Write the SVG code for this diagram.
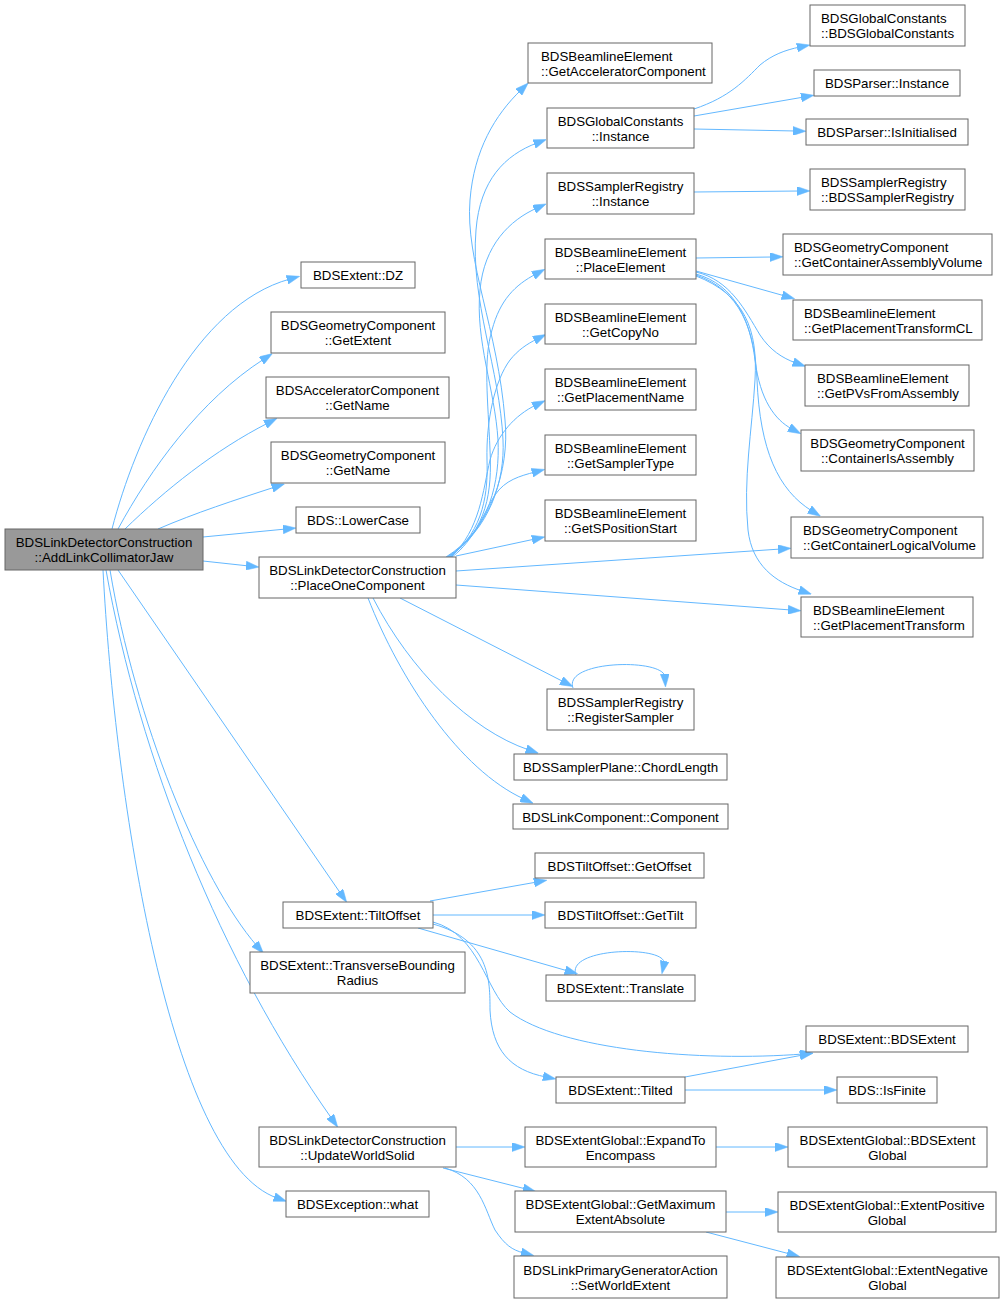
<svg xmlns="http://www.w3.org/2000/svg" width="1004" height="1303" viewBox="0 0 1004 1303">
<style>
.n rect{fill:#fff;stroke:#666;stroke-width:1}
.r rect{fill:#999;stroke:#666;stroke-width:1}
text{font-family:"Liberation Sans",Arial,Helvetica,sans-serif;font-size:13.3px;fill:#000}
.c{text-anchor:middle}
.l{text-anchor:start}
.e path{fill:none;stroke:#63b8ff;stroke-width:1;marker-end:url(#a)}
</style>
<defs>
<marker id="a" viewBox="0 0 13 9" refX="3" refY="4.5" markerWidth="13" markerHeight="9" markerUnits="userSpaceOnUse" orient="auto">
<path d="M0,0 L13,4.5 L0,9 z" fill="#63b8ff" stroke="#63b8ff" stroke-width="0.5"/>
</marker>
</defs>
<rect width="1004" height="1303" fill="#fff"/>
<g id="edges" class="e">
<path d="M112,529 C135,440 195,305 290,279"/>
<path d="M118,529 C150,470 200,400 264,359"/>
<path d="M125,529 C165,490 215,450 268,423"/>
<path d="M158,529 C195,513 235,500 275,487"/>
<path d="M203,537 L286,529"/>
<path d="M203,561 L249,566"/>
<path d="M118,570 L341,894"/>
<path d="M110,570 C135,720 200,880 257,946"/>
<path d="M106,570 C140,760 220,960 332,1119"/>
<path d="M103,570 C115,800 170,1160 277,1198"/>
<path d="M446,557 C490,530 510,470 505,420 C498,330 465,260 470,200 C474,150 495,115 521,90"/>
<path d="M447,557 C490,530 505,480 503,440 C500,370 470,300 476,230 C480,180 505,155 537,143"/>
<path d="M448,557 C490,530 500,480 498,440 C495,390 475,340 480,290 C484,245 510,220 537,208"/>
<path d="M449,557 C488,530 492,490 490,450 C488,400 483,360 492,330 C500,300 515,285 536,274"/>
<path d="M450,557 C485,530 488,490 487,460 C486,420 495,380 510,360 C518,350 527,344 537,339"/>
<path d="M451,557 C480,530 483,490 490,460 C497,435 515,415 536,405"/>
<path d="M452,557 C475,540 485,510 495,495 C505,480 520,476 535,472"/>
<path d="M456,556 L535,539"/>
<path d="M456,571 L781,549"/>
<path d="M456,585 L791,610"/>
<path d="M400,598 L564,682"/>
<path d="M373,598 C410,670 470,730 529,750"/>
<path d="M368,598 C400,680 460,770 524,799"/>
<path d="M573,688 C563,660 664,658 665,677"/>
<path d="M694,109 C730,97 745,80 760,65 C772,55 785,50 800,47"/>
<path d="M694,116 L804,97"/>
<path d="M694,129 L796,131"/>
<path d="M694,192 L800,191"/>
<path d="M696,258 L773,257"/>
<path d="M696,271 L785,296"/>
<path d="M696,272 C730,280 745,310 760,335 C770,350 782,358 796,363"/>
<path d="M696,274 C735,285 750,320 755,360 C760,400 775,420 792,429"/>
<path d="M696,275 C740,290 755,330 757,380 C760,450 778,490 812,511"/>
<path d="M696,276 C745,295 758,330 755,380 C752,430 743,480 748,530 C752,565 775,582 802,591"/>
<path d="M430,901 L537,882"/>
<path d="M433,915 L535,915"/>
<path d="M418,928 L568,971"/>
<path d="M576,975 C565,947 668,945 664,964"/>
<path d="M433,922 C480,935 485,990 510,1012 C560,1050 700,1062 803,1054"/>
<path d="M433,924 C490,940 490,980 490,1010 C492,1050 510,1070 546,1077"/>
<path d="M685,1077 L803,1055"/>
<path d="M685,1090 L827,1090"/>
<path d="M456,1147 L515,1147"/>
<path d="M443,1168 L526,1189"/>
<path d="M445,1168 C480,1178 485,1210 495,1230 C505,1245 512,1250 524,1253"/>
<path d="M716,1147 L778,1147"/>
<path d="M726,1212 L768,1212"/>
<path d="M706,1232 L790,1254"/>
</g>
<g id="n0" class="r"><rect x="5" y="529" width="198" height="41"/><text class="c" x="104" y="547">BDSLinkDetectorConstruction</text><text class="c" x="104" y="562">::AddLinkCollimatorJaw</text></g>
<g id="n1" class="n"><rect x="301" y="262" width="114" height="26"/><text class="c" x="358" y="280">BDSExtent::DZ</text></g>
<g id="n2" class="n"><rect x="271" y="312" width="174" height="41"/><text class="c" x="358" y="330">BDSGeometryComponent</text><text class="c" x="358" y="345">::GetExtent</text></g>
<g id="n3" class="n"><rect x="266" y="377" width="183" height="41"/><text class="c" x="357.5" y="395">BDSAcceleratorComponent</text><text class="c" x="357.5" y="410">::GetName</text></g>
<g id="n4" class="n"><rect x="271" y="442" width="174" height="41"/><text class="c" x="358" y="460">BDSGeometryComponent</text><text class="c" x="358" y="475">::GetName</text></g>
<g id="n5" class="n"><rect x="296" y="507" width="124" height="26"/><text class="c" x="358" y="525">BDS::LowerCase</text></g>
<g id="n6" class="n"><rect x="259" y="557" width="197" height="41"/><text class="c" x="357.5" y="575">BDSLinkDetectorConstruction</text><text class="c" x="357.5" y="590">::PlaceOneComponent</text></g>
<g id="n7" class="n"><rect x="283" y="902" width="150" height="26"/><text class="c" x="358" y="920">BDSExtent::TiltOffset</text></g>
<g id="n8" class="n"><rect x="250" y="952" width="215" height="41"/><text class="c" x="357.5" y="970">BDSExtent::TransverseBounding</text><text class="c" x="357.5" y="985">Radius</text></g>
<g id="n9" class="n"><rect x="259" y="1127" width="197" height="40"/><text class="c" x="357.5" y="1145">BDSLinkDetectorConstruction</text><text class="c" x="357.5" y="1160">::UpdateWorldSolid</text></g>
<g id="n10" class="n"><rect x="286" y="1191" width="143" height="26"/><text class="c" x="357.5" y="1209">BDSException::what</text></g>
<g id="n11" class="n"><rect x="528" y="43" width="184" height="40"/><text class="l" x="541" y="61">BDSBeamlineElement</text><text class="l" x="541" y="76">::GetAcceleratorComponent</text></g>
<g id="n12" class="n"><rect x="547" y="108" width="147" height="40"/><text class="c" x="620.5" y="126">BDSGlobalConstants</text><text class="c" x="620.5" y="141">::Instance</text></g>
<g id="n13" class="n"><rect x="547" y="173" width="147" height="41"/><text class="c" x="620.5" y="191">BDSSamplerRegistry</text><text class="c" x="620.5" y="206">::Instance</text></g>
<g id="n14" class="n"><rect x="545" y="239" width="151" height="40"/><text class="c" x="620.5" y="257">BDSBeamlineElement</text><text class="c" x="620.5" y="272">::PlaceElement</text></g>
<g id="n15" class="n"><rect x="545" y="304" width="151" height="40"/><text class="c" x="620.5" y="322">BDSBeamlineElement</text><text class="c" x="620.5" y="337">::GetCopyNo</text></g>
<g id="n16" class="n"><rect x="545" y="369" width="151" height="41"/><text class="c" x="620.5" y="387">BDSBeamlineElement</text><text class="c" x="620.5" y="402">::GetPlacementName</text></g>
<g id="n17" class="n"><rect x="545" y="435" width="151" height="40"/><text class="c" x="620.5" y="453">BDSBeamlineElement</text><text class="c" x="620.5" y="468">::GetSamplerType</text></g>
<g id="n18" class="n"><rect x="545" y="500" width="151" height="41"/><text class="c" x="620.5" y="518">BDSBeamlineElement</text><text class="c" x="620.5" y="533">::GetSPositionStart</text></g>
<g id="n19" class="n"><rect x="547" y="689" width="147" height="41"/><text class="c" x="620.5" y="707">BDSSamplerRegistry</text><text class="c" x="620.5" y="722">::RegisterSampler</text></g>
<g id="n20" class="n"><rect x="514" y="754" width="213" height="26"/><text class="c" x="620.5" y="772">BDSSamplerPlane::ChordLength</text></g>
<g id="n21" class="n"><rect x="513" y="804" width="215" height="25"/><text class="c" x="620.5" y="822">BDSLinkComponent::Component</text></g>
<g id="n22" class="n"><rect x="535" y="853" width="169" height="25"/><text class="c" x="619.5" y="871">BDSTiltOffset::GetOffset</text></g>
<g id="n23" class="n"><rect x="545" y="902" width="151" height="26"/><text class="c" x="620.5" y="920">BDSTiltOffset::GetTilt</text></g>
<g id="n24" class="n"><rect x="546" y="975" width="149" height="26"/><text class="c" x="620.5" y="993">BDSExtent::Translate</text></g>
<g id="n25" class="n"><rect x="556" y="1077" width="129" height="26"/><text class="c" x="620.5" y="1095">BDSExtent::Tilted</text></g>
<g id="n26" class="n"><rect x="525" y="1127" width="191" height="40"/><text class="c" x="620.5" y="1145">BDSExtentGlobal::ExpandTo</text><text class="c" x="620.5" y="1160">Encompass</text></g>
<g id="n27" class="n"><rect x="515" y="1191" width="211" height="41"/><text class="c" x="620.5" y="1209">BDSExtentGlobal::GetMaximum</text><text class="c" x="620.5" y="1224">ExtentAbsolute</text></g>
<g id="n28" class="n"><rect x="514" y="1256" width="213" height="42"/><text class="c" x="620.5" y="1275">BDSLinkPrimaryGeneratorAction</text><text class="c" x="620.5" y="1290">::SetWorldExtent</text></g>
<g id="n29" class="n"><rect x="810" y="5" width="155" height="41"/><text class="l" x="821" y="23">BDSGlobalConstants</text><text class="l" x="821" y="38">::BDSGlobalConstants</text></g>
<g id="n30" class="n"><rect x="814" y="70" width="146" height="26"/><text class="c" x="887" y="88">BDSParser::Instance</text></g>
<g id="n31" class="n"><rect x="806" y="119" width="162" height="26"/><text class="c" x="887" y="137">BDSParser::IsInitialised</text></g>
<g id="n32" class="n"><rect x="810" y="169" width="155" height="41"/><text class="l" x="821" y="187">BDSSamplerRegistry</text><text class="l" x="821" y="202">::BDSSamplerRegistry</text></g>
<g id="n33" class="n"><rect x="783" y="234" width="209" height="41"/><text class="l" x="794" y="252">BDSGeometryComponent</text><text class="l" x="794" y="267">::GetContainerAssemblyVolume</text></g>
<g id="n34" class="n"><rect x="793" y="300" width="189" height="40"/><text class="l" x="804" y="318">BDSBeamlineElement</text><text class="l" x="804" y="333">::GetPlacementTransformCL</text></g>
<g id="n35" class="n"><rect x="805" y="365" width="164" height="41"/><text class="l" x="817" y="383">BDSBeamlineElement</text><text class="l" x="817" y="398">::GetPVsFromAssembly</text></g>
<g id="n36" class="n"><rect x="801" y="430" width="173" height="41"/><text class="c" x="887.5" y="448">BDSGeometryComponent</text><text class="c" x="887.5" y="463">::ContainerIsAssembly</text></g>
<g id="n37" class="n"><rect x="791" y="517" width="192" height="41"/><text class="l" x="803" y="535">BDSGeometryComponent</text><text class="l" x="803" y="550">::GetContainerLogicalVolume</text></g>
<g id="n38" class="n"><rect x="801" y="597" width="172" height="40"/><text class="l" x="813" y="615">BDSBeamlineElement</text><text class="l" x="813" y="630">::GetPlacementTransform</text></g>
<g id="n39" class="n"><rect x="806" y="1026" width="162" height="26"/><text class="c" x="887" y="1044">BDSExtent::BDSExtent</text></g>
<g id="n40" class="n"><rect x="837" y="1077" width="100" height="26"/><text class="c" x="887" y="1095">BDS::IsFinite</text></g>
<g id="n41" class="n"><rect x="788" y="1127" width="199" height="40"/><text class="c" x="887.5" y="1145">BDSExtentGlobal::BDSExtent</text><text class="c" x="887.5" y="1160">Global</text></g>
<g id="n42" class="n"><rect x="778" y="1192" width="218" height="40"/><text class="c" x="887" y="1210">BDSExtentGlobal::ExtentPositive</text><text class="c" x="887" y="1225">Global</text></g>
<g id="n43" class="n"><rect x="776" y="1257" width="223" height="41"/><text class="c" x="887.5" y="1275">BDSExtentGlobal::ExtentNegative</text><text class="c" x="887.5" y="1290">Global</text></g>
</svg>
